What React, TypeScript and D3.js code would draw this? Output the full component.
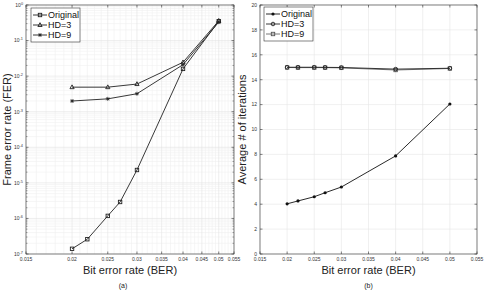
import React, { useEffect, useRef } from "react";
import * as d3 from "d3";

// x values (bit error rate)
const berAll = [0.02, 0.022, 0.025, 0.027, 0.03, 0.04, 0.05];
const berHD = [0.02, 0.025, 0.03, 0.04, 0.05];

// (a) frame error rate
const ferOriginal = [1.4e-7, 2.6e-7, 1.18e-6, 2.9e-6, 2.3e-5, 1.6e-2, 0.35];
const ferHD3 = [4.9e-3, 4.9e-3, 6.0e-3, 2.45e-2, 0.36];
const ferHD9 = [2.0e-3, 2.3e-3, 3.2e-3, 2.1e-2, 0.33];

// (b) average number of iterations
const iterOriginal = [4.03, 4.26, 4.6, 4.92, 5.38, 7.88, 12.05];
const iterHD3 = [15.0, 15.0, 15.0, 14.99, 14.98, 14.85, 14.92];
const iterHD9 = [14.98, 14.97, 14.97, 14.97, 14.95, 14.78, 14.9];

const xTicks = [0.015, 0.02, 0.025, 0.03, 0.035, 0.04, 0.045, 0.05, 0.055];
const yTicksIter = [0, 2, 4, 6, 8, 10, 12, 14, 16, 18, 20];
const yExpFER = [0, -1, -2, -3, -4, -5, -6, -7];

const FONT = "'Liberation Sans', Arial, Helvetica, sans-serif";

type Sym = "square" | "triangle" | "star" | "dot" | "circle" | "gsquare";

function drawMarker(g: any, sym: Sym, x: number, y: number) {
  if (sym === "square" || sym === "gsquare") {
    g.append("rect").attr("x", x - 1.7).attr("y", y - 1.7).attr("width", 3.4).attr("height", 3.4)
      .attr("fill", "none").attr("stroke", sym === "gsquare" ? "#555" : "#222").attr("stroke-width", 0.9);
  } else if (sym === "triangle") {
    g.append("path").attr("d", `M${x},${y - 2.3}L${x + 2.1},${y + 1.5}L${x - 2.1},${y + 1.5}Z`)
      .attr("fill", "none").attr("stroke", "#222").attr("stroke-width", 0.9);
  } else if (sym === "star") {
    const r = 2;
    g.append("path")
      .attr("d", `M${x - r},${y}L${x + r},${y}M${x},${y - r}L${x},${y + r}M${x - r * 0.7},${y - r * 0.7}L${x + r * 0.7},${y + r * 0.7}M${x - r * 0.7},${y + r * 0.7}L${x + r * 0.7},${y - r * 0.7}`)
      .attr("stroke", "#222").attr("stroke-width", 0.8);
  } else if (sym === "dot") {
    g.append("circle").attr("cx", x).attr("cy", y).attr("r", 1.6).attr("fill", "#111");
  } else {
    g.append("circle").attr("cx", x).attr("cy", y).attr("r", 1.8).attr("fill", "none")
      .attr("stroke", "#222").attr("stroke-width", 0.9);
  }
}

function drawLegend(g: any, x0: number, y0: number, items: { label: string; sym: Sym; color: string }[]) {
  g.append("rect").attr("x", x0).attr("y", y0).attr("width", 49).attr("height", 34)
    .attr("fill", "white").attr("stroke", "#333").attr("stroke-width", 0.6);
  items.forEach((it, i) => {
    const y = y0 + 7 + i * 10;
    g.append("line").attr("x1", x0 + 2).attr("x2", x0 + 16).attr("y1", y).attr("y2", y)
      .attr("stroke", it.color).attr("stroke-width", 0.9);
    drawMarker(g, it.sym, x0 + 9, y);
    g.append("text").attr("x", x0 + 17).attr("y", y + 3.2).attr("font-size", 9)
      .attr("font-family", FONT).attr("fill", "#111").text(it.label);
  });
}

export default function App() {
  const ref = useRef<SVGSVGElement>(null);

  useEffect(() => {
    const svg = d3.select(ref.current);
    svg.selectAll("*").remove();

    const top = 5, bottom = 254;

    // ---------- (a) FER, log-log ----------
    const xa = d3.scaleLog().domain([0.015, 0.055]).range([26, 234]);
    const ya = d3.scaleLog().domain([1e-7, 1]).range([bottom, top]);
    const ga = svg.append("g");

    // minor grid
    const xMinor = d3.range(15, 56).map((v) => v / 1000).filter((v) => Math.round(v * 1000) % 5 !== 0);
    ga.selectAll("line.xmin").data(xMinor).join("line")
      .attr("x1", (d: number) => xa(d)).attr("x2", (d: number) => xa(d))
      .attr("y1", top).attr("y2", bottom).attr("stroke", "#f0f0f0").attr("stroke-width", 0.6);
    const yMinor: number[] = [];
    for (let e = -7; e < 0; e++) for (let m = 2; m <= 9; m++) yMinor.push(m * Math.pow(10, e));
    ga.selectAll("line.ymin").data(yMinor).join("line")
      .attr("x1", 26).attr("x2", 234)
      .attr("y1", (d: number) => ya(d)).attr("y2", (d: number) => ya(d))
      .attr("stroke", "#f0f0f0").attr("stroke-width", 0.6);
    // major grid
    ga.selectAll("line.xmaj").data(xTicks).join("line")
      .attr("x1", (d: number) => xa(d)).attr("x2", (d: number) => xa(d))
      .attr("y1", top).attr("y2", bottom).attr("stroke", "#e2e2e2").attr("stroke-width", 0.6);
    ga.selectAll("line.ymaj").data(yExpFER).join("line")
      .attr("x1", 26).attr("x2", 234)
      .attr("y1", (d: number) => ya(Math.pow(10, d))).attr("y2", (d: number) => ya(Math.pow(10, d)))
      .attr("stroke", "#e2e2e2").attr("stroke-width", 0.6);

    // ticks (inward, both sides)
    xTicks.forEach((t) => {
      ga.append("line").attr("x1", xa(t)).attr("x2", xa(t)).attr("y1", bottom).attr("y2", bottom - 2.5).attr("stroke", "#333").attr("stroke-width", 0.6);
      ga.append("line").attr("x1", xa(t)).attr("x2", xa(t)).attr("y1", top).attr("y2", top + 2.5).attr("stroke", "#333").attr("stroke-width", 0.6);
    });
    yMinor.forEach((t) => {
      ga.append("line").attr("x1", 26).attr("x2", 27.5).attr("y1", ya(t)).attr("y2", ya(t)).attr("stroke", "#555").attr("stroke-width", 0.5);
      ga.append("line").attr("x1", 234).attr("x2", 232.5).attr("y1", ya(t)).attr("y2", ya(t)).attr("stroke", "#555").attr("stroke-width", 0.5);
    });
    yExpFER.forEach((e) => {
      const y = ya(Math.pow(10, e));
      ga.append("line").attr("x1", 26).attr("x2", 28.5).attr("y1", y).attr("y2", y).attr("stroke", "#333").attr("stroke-width", 0.6);
      ga.append("line").attr("x1", 234).attr("x2", 231.5).attr("y1", y).attr("y2", y).attr("stroke", "#333").attr("stroke-width", 0.6);
      const t = ga.append("text").attr("x", 23).attr("y", y + 1.8).attr("text-anchor", "end")
        .attr("font-size", 5).attr("font-family", FONT).attr("fill", "#333");
      t.append("tspan").text("10");
      t.append("tspan").attr("dy", -2).attr("font-size", 3.8).text(String(e));
    });
    xTicks.forEach((t) => {
      ga.append("text").attr("x", xa(t)).attr("y", 261).attr("text-anchor", "middle")
        .attr("font-size", 5).attr("font-family", FONT).attr("fill", "#333").text(String(t));
    });
    ga.append("rect").attr("x", 26).attr("y", top).attr("width", 208).attr("height", bottom - top)
      .attr("fill", "none").attr("stroke", "#333").attr("stroke-width", 0.6);

    const lineA = (xs: number[], ys: number[], color: string, sym: Sym) => {
      const pts = xs.map((x, i) => [xa(x), ya(ys[i])] as [number, number]);
      ga.append("path").attr("d", d3.line()(pts)).attr("fill", "none").attr("stroke", color).attr("stroke-width", 0.9);
      pts.forEach(([x, y]) => drawMarker(ga, sym, x, y));
    };
    lineA(berAll, ferOriginal, "#222", "square");
    lineA(berHD, ferHD3, "#222", "triangle");
    lineA(berHD, ferHD9, "#222", "star");

    drawLegend(ga, 31, 8, [
      { label: "Original", sym: "square", color: "#222" },
      { label: "HD=3", sym: "triangle", color: "#222" },
      { label: "HD=9", sym: "star", color: "#222" },
    ]);

    ga.append("text").attr("x", 130).attr("y", 274).attr("text-anchor", "middle")
      .attr("font-size", 11).attr("font-family", FONT).attr("fill", "#222").text("Bit error rate (BER)");
    ga.append("text").attr("transform", `translate(11,${(top + bottom) / 2}) rotate(-90)`)
      .attr("text-anchor", "middle").attr("font-size", 11).attr("font-family", FONT).attr("fill", "#222")
      .text("Frame error rate (FER)");
    ga.append("text").attr("x", 123).attr("y", 288).attr("text-anchor", "middle")
      .attr("font-size", 7).attr("font-family", FONT).attr("fill", "#222").text("(a)");

    // ---------- (b) iterations, linear ----------
    const xb = d3.scaleLinear().domain([0.015, 0.055]).range([260, 477]);
    const yb = d3.scaleLinear().domain([0, 20]).range([bottom, top]);
    const gb = svg.append("g");

    gb.selectAll("line.xg").data(xTicks).join("line")
      .attr("x1", (d: number) => xb(d)).attr("x2", (d: number) => xb(d))
      .attr("y1", top).attr("y2", bottom).attr("stroke", "#e6e6e6").attr("stroke-width", 0.6);
    gb.selectAll("line.yg").data(yTicksIter).join("line")
      .attr("x1", 260).attr("x2", 477)
      .attr("y1", (d: number) => yb(d)).attr("y2", (d: number) => yb(d))
      .attr("stroke", "#e6e6e6").attr("stroke-width", 0.6);
    xTicks.forEach((t) => {
      gb.append("line").attr("x1", xb(t)).attr("x2", xb(t)).attr("y1", bottom).attr("y2", bottom - 2.5).attr("stroke", "#333").attr("stroke-width", 0.6);
      gb.append("line").attr("x1", xb(t)).attr("x2", xb(t)).attr("y1", top).attr("y2", top + 2.5).attr("stroke", "#333").attr("stroke-width", 0.6);
      gb.append("text").attr("x", xb(t)).attr("y", 261).attr("text-anchor", "middle")
        .attr("font-size", 5).attr("font-family", FONT).attr("fill", "#333").text(String(t));
    });
    yTicksIter.forEach((t) => {
      gb.append("line").attr("x1", 260).attr("x2", 262.5).attr("y1", yb(t)).attr("y2", yb(t)).attr("stroke", "#333").attr("stroke-width", 0.6);
      gb.append("line").attr("x1", 477).attr("x2", 474.5).attr("y1", yb(t)).attr("y2", yb(t)).attr("stroke", "#333").attr("stroke-width", 0.6);
      gb.append("text").attr("x", 257).attr("y", yb(t) + 1.8).attr("text-anchor", "end")
        .attr("font-size", 5).attr("font-family", FONT).attr("fill", "#333").text(String(t));
    });
    gb.append("rect").attr("x", 260).attr("y", top).attr("width", 217).attr("height", bottom - top)
      .attr("fill", "none").attr("stroke", "#333").attr("stroke-width", 0.6);

    const lineB = (ys: number[], color: string, sym: Sym) => {
      const pts = berAll.map((x, i) => [xb(x), yb(ys[i])] as [number, number]);
      gb.append("path").attr("d", d3.line()(pts)).attr("fill", "none").attr("stroke", color).attr("stroke-width", 0.9);
      pts.forEach(([x, y]) => drawMarker(gb, sym, x, y));
    };
    lineB(iterHD9, "#666", "gsquare");
    lineB(iterHD3, "#222", "circle");
    lineB(iterOriginal, "#111", "dot");

    drawLegend(gb, 264, 7, [
      { label: "Original", sym: "dot", color: "#111" },
      { label: "HD=3", sym: "circle", color: "#222" },
      { label: "HD=9", sym: "gsquare", color: "#666" },
    ]);

    gb.append("text").attr("x", 368.5).attr("y", 274).attr("text-anchor", "middle")
      .attr("font-size", 11).attr("font-family", FONT).attr("fill", "#222").text("Bit error rate (BER)");
    gb.append("text").attr("transform", `translate(246,${(top + bottom) / 2}) rotate(-90)`)
      .attr("text-anchor", "middle").attr("font-size", 11).attr("font-family", FONT).attr("fill", "#222")
      .text("Average # of iterations");
    gb.append("text").attr("x", 368.5).attr("y", 288).attr("text-anchor", "middle")
      .attr("font-size", 7).attr("font-family", FONT).attr("fill", "#222").text("(b)");
  }, []);

  return (
    <svg ref={ref} width={485} height={290}
      style={{ position: "absolute", left: 0, top: 0, background: "white" }} />
  );
}
